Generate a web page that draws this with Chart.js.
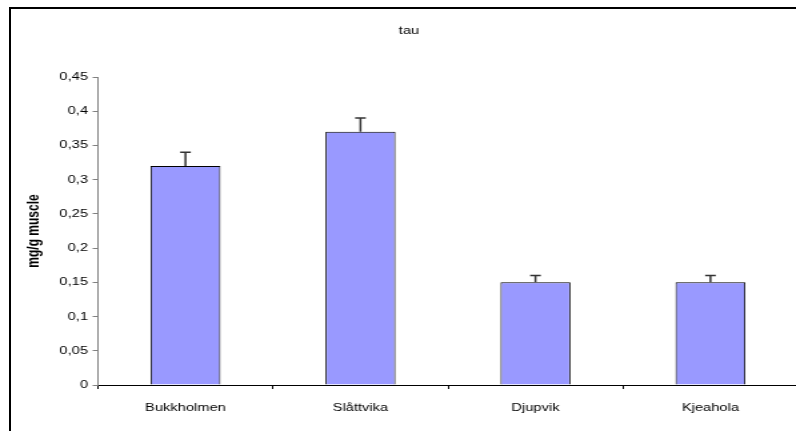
<!DOCTYPE html>
<html>
<head>
<meta charset="utf-8">
<script src="https://cdn.jsdelivr.net/npm/chart.js@4.4.1/dist/chart.umd.min.js"></script>
<style>
  html, body { margin: 0; padding: 0; background: #fff; overflow: hidden; width: 796px; height: 431px; }
  #frame { position: absolute; left: 9px; top: 7px; width: 2000px; height: 2000px;
           border-left: 2px solid #000; border-top: 2px solid #000; }
  #wrap { position: absolute; left: 0; top: 0; width: 600px; height: 431px;
          transform: scaleX(1.3333); transform-origin: 0 0; }
</style>
</head>
<body>
<div id="frame"></div>
<div id="wrap"><canvas id="tau-chart" width="600" height="431"></canvas></div>
<script>
const sites = ['Bukkholmen', 'Slåttvika', 'Djupvik', 'Kjeahola'];
const tauMean = [0.32, 0.37, 0.15, 0.15];
const tauErr = [0.02, 0.02, 0.01, 0.01];
const yTicks = [0, 0.05, 0.1, 0.15, 0.2, 0.25, 0.3, 0.35, 0.4, 0.45];

Chart.defaults.font.family = "'Liberation Sans', Arial, sans-serif";
Chart.defaults.font.size = 11;
Chart.defaults.color = '#000';

// upward error whiskers only, like the excel chart
const errorBars = {
  id: 'errorBars',
  afterDatasetsDraw(chart) {
    const ctx = chart.ctx;
    const meta = chart.getDatasetMeta(0);
    const y = chart.scales.y;
    ctx.save();
    ctx.strokeStyle = '#333';
    ctx.lineWidth = 1.5;
    meta.data.forEach((bar, i) => {
      const top = y.getPixelForValue(tauMean[i] + tauErr[i]);
      ctx.beginPath();
      ctx.moveTo(bar.x, bar.y);
      ctx.lineTo(bar.x, top);
      ctx.moveTo(bar.x - 4, top);
      ctx.lineTo(bar.x + 4, top);
      ctx.stroke();
    });
    ctx.restore();
  }
};

const tauChart = new Chart(document.getElementById('tau-chart'), {
  type: 'bar',
  data: {
    labels: sites,
    datasets: [{
      label: 'tau',
      data: tauMean,
      backgroundColor: '#9999FF',
      borderColor: '#000',
      borderWidth: 1,
      categoryPercentage: 1,
      barPercentage: 0.4
    }]
  },
  options: {
    responsive: false,
    animation: false,
    layout: { padding: { left: 15, right: 1.5, top: 0, bottom: 0 } },
    plugins: {
      legend: { display: false },
      tooltip: { enabled: false },
      title: {
        display: true,
        text: 'tau',
        color: '#000',
        font: { size: 11, weight: 'normal' },
        padding: { top: 23.9, bottom: 39.9 }
      }
    },
    scales: {
      x: {
        afterFit: s => { s.height = 46; },
        grid: { drawOnChartArea: false, offset: true, tickLength: 4, color: '#000' },
        border: { color: '#000', width: 1 },
        ticks: { padding: 12, color: '#000', font: { size: 11 } }
      },
      y: {
        min: 0,
        max: 0.45,
        afterFit: s => { s.width = 58.5; },
        afterBuildTicks: s => { s.ticks = yTicks.map(v => ({ value: v })); },
        grid: { drawOnChartArea: false, tickLength: 4, color: '#808080' },
        border: { color: '#808080', width: 1 },
        ticks: {
          padding: 3.5,
          color: '#000',
          font: { size: 11 },
          callback: v => String(Math.round(v * 100) / 100).replace('.', ',')
        },
        title: {
          display: true,
          text: 'mg/g muscle',
          color: '#000',
          font: { size: 12, weight: 'bold' },
          padding: { top: 3, bottom: 0 }
        }
      }
    }
  },
  plugins: [errorBars]
});
</script>
</body>
</html>
